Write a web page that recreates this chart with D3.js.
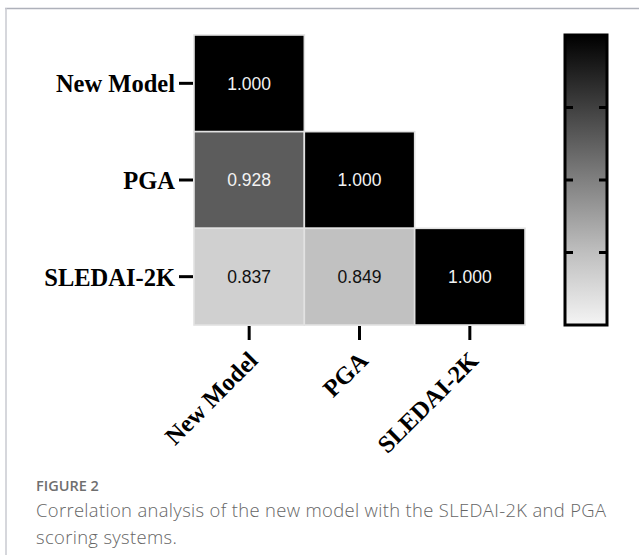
<!DOCTYPE html>
<html>
<head>
<meta charset="utf-8">
<script src="https://cdn.jsdelivr.net/npm/d3@7/dist/d3.min.js"></script>
<style>
  html, body { margin: 0; padding: 0; background: #fff; }
  svg { display: block; }
</style>
</head>
<body>
<svg id="chart" width="639" height="555"></svg>
<script>
// ---- data ----
const categories = ["New Model", "PGA", "SLEDAI-2K"];
// lower-triangle correlation values: [rowIndex, colIndex, value]
const rowIdx = [0, 1, 1, 2, 2, 2];
const colIdx = [0, 0, 1, 0, 1, 2];
const values = [1.000, 0.928, 1.000, 0.837, 0.849, 1.000];
const colorDomain = [0.8, 1.0];
const colorbarTicks = [0.85, 0.90, 0.95];
const figureLabel = "FIGURE 2";
const captionLines = [
  "Correlation analysis of the new model with the SLEDAI-2K and PGA",
  "scoring systems."
];

const cells = values.map((v, i) => ({ r: rowIdx[i], c: colIdx[i], v }));

const svg = d3.select("#chart");

// frame lines
svg.append("line").attr("x1", 5).attr("x2", 639).attr("y1", 8.5).attr("y2", 8.5)
  .attr("stroke", "#aeb1ba").attr("stroke-width", 1.5);
svg.append("line").attr("x1", 6).attr("x2", 6).attr("y1", 8).attr("y2", 555)
  .attr("stroke", "#c9cad0").attr("stroke-width", 1.5);

// scales
const x = d3.scaleBand().domain(categories).range([194, 525]).padding(0);
const y = d3.scaleBand().domain(categories).range([35, 325]).padding(0);
const color = d3.scaleLinear().domain(colorDomain).range(["#ffffff", "#000000"]).clamp(true);

// cells
const g = svg.append("g");
g.selectAll("rect.cell").data(cells).join("rect")
  .attr("class", "cell")
  .attr("x", d => x(categories[d.c]))
  .attr("y", d => y(categories[d.r]))
  .attr("width", x.bandwidth())
  .attr("height", y.bandwidth())
  .attr("fill", d => color(d.v))
  .attr("stroke", "#e2e2e2")
  .attr("stroke-width", 1.6);

g.selectAll("text.val").data(cells).join("text")
  .attr("class", "val")
  .attr("x", d => x(categories[d.c]) + x.bandwidth() / 2)
  .attr("y", d => y(categories[d.r]) + y.bandwidth() / 2)
  .attr("dy", "0.36em")
  .attr("text-anchor", "middle")
  .attr("font-family", "'Liberation Sans', Arial, sans-serif")
  .attr("font-size", 17.5)
  .attr("fill", d => d.v > 0.9 ? "#f2f2f2" : "#111")
  .text(d => d.v.toFixed(3));

// y axis
const yAxis = svg.append("g");
yAxis.selectAll("line").data(categories).join("line")
  .attr("x1", 179).attr("x2", 193)
  .attr("y1", d => y(d) + y.bandwidth() / 2)
  .attr("y2", d => y(d) + y.bandwidth() / 2)
  .attr("stroke", "#000").attr("stroke-width", 3);
yAxis.selectAll("text").data(categories).join("text")
  .attr("x", 175)
  .attr("y", d => y(d) + y.bandwidth() / 2 + 1)
  .attr("dy", "0.33em")
  .attr("text-anchor", "end")
  .attr("font-family", "'Liberation Serif', 'Times New Roman', serif")
  .attr("font-weight", "bold")
  .attr("font-size", 24.5)
  .attr("fill", "#000")
  .text(d => d);

// x axis
const xAxis = svg.append("g");
xAxis.selectAll("line").data(categories).join("line")
  .attr("x1", d => x(d) + x.bandwidth() / 2)
  .attr("x2", d => x(d) + x.bandwidth() / 2)
  .attr("y1", 326).attr("y2", 340)
  .attr("stroke", "#000").attr("stroke-width", 3);
xAxis.selectAll("text").data(categories).join("text")
  .attr("transform", d => `translate(${x(d) + x.bandwidth() / 2 + 10},${362}) rotate(-45)`)
  .attr("text-anchor", "end")
  .attr("font-family", "'Liberation Serif', 'Times New Roman', serif")
  .attr("font-weight", "bold")
  .attr("font-size", 24.5)
  .attr("fill", "#000")
  .text(d => d);

// colorbar
const cb = { x: 565, w: 42, top: 35, bottom: 325 };
const cbY = d3.scaleLinear().domain(colorDomain).range([cb.bottom, cb.top]);
const defs = svg.append("defs");
const grad = defs.append("linearGradient").attr("id", "cbgrad")
  .attr("x1", 0).attr("x2", 0).attr("y1", 1).attr("y2", 0);
const stopVals = [0.8, 0.85, 0.9, 0.95, 1.0];
grad.selectAll("stop").data(stopVals).join("stop")
  .attr("offset", d => (d - colorDomain[0]) / (colorDomain[1] - colorDomain[0]))
  .attr("stop-color", d => d === 0.8 ? "#f4f4f4" : color(d));
svg.append("rect")
  .attr("x", cb.x).attr("y", cb.top).attr("width", cb.w).attr("height", cb.bottom - cb.top)
  .attr("fill", "url(#cbgrad)")
  .attr("stroke", "#000").attr("stroke-width", 3);
const cbTicks = svg.append("g");
cbTicks.selectAll("line.l").data(colorbarTicks).join("line").attr("class", "l")
  .attr("x1", cb.x).attr("x2", cb.x + 8)
  .attr("y1", d => cbY(d)).attr("y2", d => cbY(d))
  .attr("stroke", "#000").attr("stroke-width", 3);
cbTicks.selectAll("line.r").data(colorbarTicks).join("line").attr("class", "r")
  .attr("x1", cb.x + cb.w - 8).attr("x2", cb.x + cb.w)
  .attr("y1", d => cbY(d)).attr("y2", d => cbY(d))
  .attr("stroke", "#000").attr("stroke-width", 3);

// caption
svg.append("text")
  .attr("x", 36).attr("y", 491)
  .attr("font-family", "'Open Sans', sans-serif")
  .attr("font-weight", 600)
  .attr("font-size", 14.5)
  .attr("fill", "#6f6f6f")
  .text(figureLabel);
svg.selectAll("text.cap").data(captionLines).join("text")
  .attr("class", "cap")
  .attr("x", 36)
  .attr("y", (d, i) => 517 + i * 27)
  .attr("font-family", "'Open Sans', sans-serif")
  .attr("font-weight", 300)
  .attr("font-size", 18.4)
  .attr("letter-spacing", 0.35)
  .attr("fill", "#666666")
  .text(d => d);
</script>
</body>
</html>
